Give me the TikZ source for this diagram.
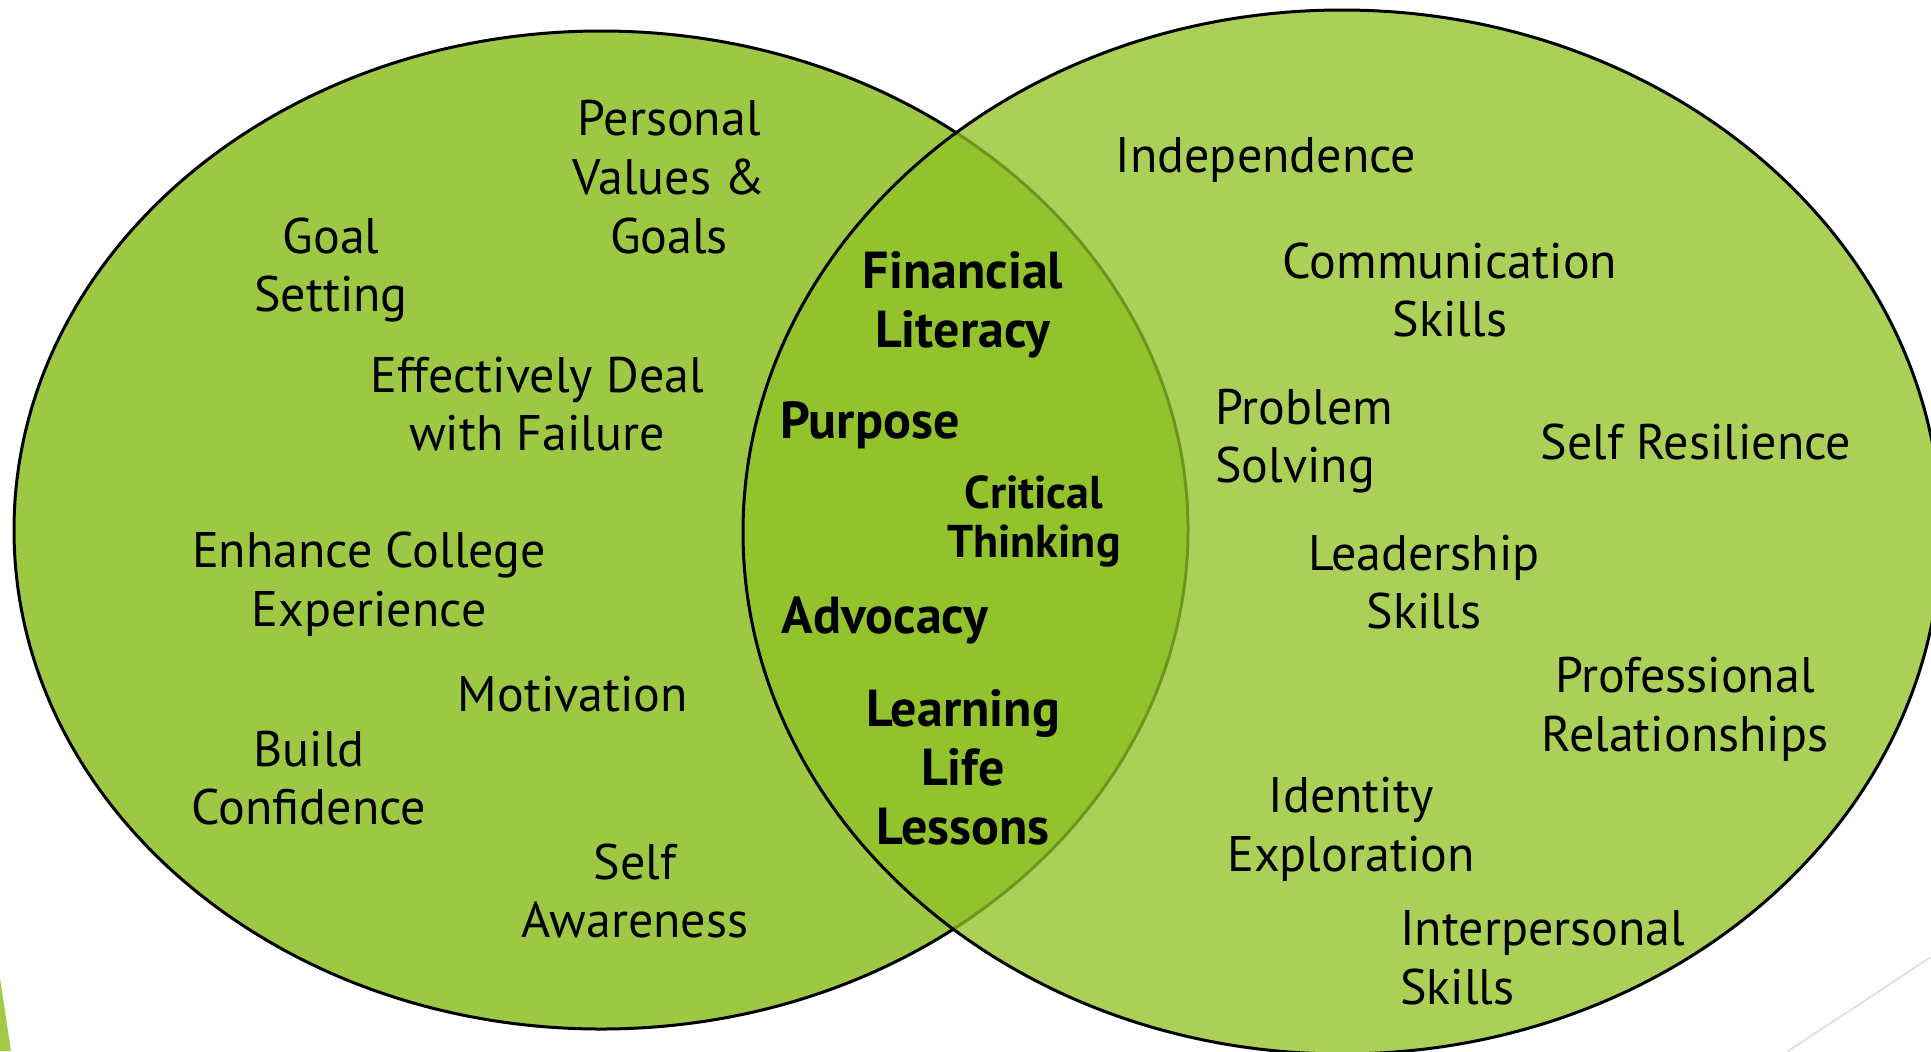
\documentclass[tikz,border=0pt]{standalone}
\usepackage{fontspec}
\setmainfont{PT Sans}
\definecolor{facetgreen}{HTML}{90C226}
\definecolor{leftgreen}{HTML}{9DC843}
\definecolor{edgegray}{HTML}{D4D4D4}

\begin{document}
\begin{tikzpicture}[x=0.5pt, y=-0.5pt,
      every node/.style={inner sep=0pt},
      lbl/.style={font=\fontsize{25}{29.3}\selectfont, align=center},
      key/.style={font=\fontsize{26}{29.5}\selectfont\bfseries, align=center},
      keysm/.style={font=\fontsize{23}{24.5}\selectfont\bfseries, align=center},
      ring/.style={draw=black, line width=1.5pt}
    ]
    \useasboundingbox (0,0) rectangle (1931,1051);
    \clip (0,0) rectangle (1931,1051);

    % slide decorations
    \fill[facetgreen!85] (0,978) -- (11,1051) -- (0,1051) -- cycle;
    \draw[edgegray, line width=0.6pt] (1788,1051) -- (1931,957);

    % the two sets
    \draw[ring, fill=leftgreen] (601,530) ellipse [x radius=587, y radius=499];
    \draw[ring, fill=facetgreen, fill opacity=0.77] (1342,532) ellipse [x radius=599, y radius=522];

    % left set
    \node[lbl] (pv)    at (669,177) {Personal\\Values \&\\Goals};
    \node[lbl] (gs)    at (331,270) {Goal\\Setting};
    \node[lbl] (fail)  at (537,404) {Effectively Deal\\with Failure};
    \node[lbl] (coll)  at (369,584) {Enhance College\\Experience};
    \node[lbl] (motiv) at (573,694) {Motivation};
    \node[lbl] (conf)  at (309,778) {Build\\Confidence};
    \node[lbl] (aware) at (635,891) {Self\\Awareness};

    % overlap
    \node[key]   (fin)  at (963,305) {Financial\\Literacy};
    \node[key]   (purp) at (870,425) {Purpose};
    \node[keysm] (crit) at (1034,521) {Critical\\Thinking};
    \node[key]   (advo) at (885,620) {Advocacy};
    \node[key]   (life) at (963,767) {Learning\\Life\\Lessons};

    % right set
    \node[lbl] (indep) at (1266,160) {Independence};
    \node[lbl] (comm)  at (1450,290) {Communication\\Skills};
    \node[lbl, align=left, anchor=west] (prob) at (1215,441) {Problem\\Solving};
    \node[lbl] (resil) at (1696,442) {Self Resilience};
    \node[lbl] (lead)  at (1424,582) {Leadership\\Skills};
    \node[lbl] (prof)  at (1685,709) {Professional\\Relationships};
    \node[lbl] (ident) at (1351,829) {Identity\\Exploration};
    \node[lbl, align=left, anchor=west] (inter) at (1400,958) {Interpersonal\\Skills};
  \end{tikzpicture}
\end{document}
